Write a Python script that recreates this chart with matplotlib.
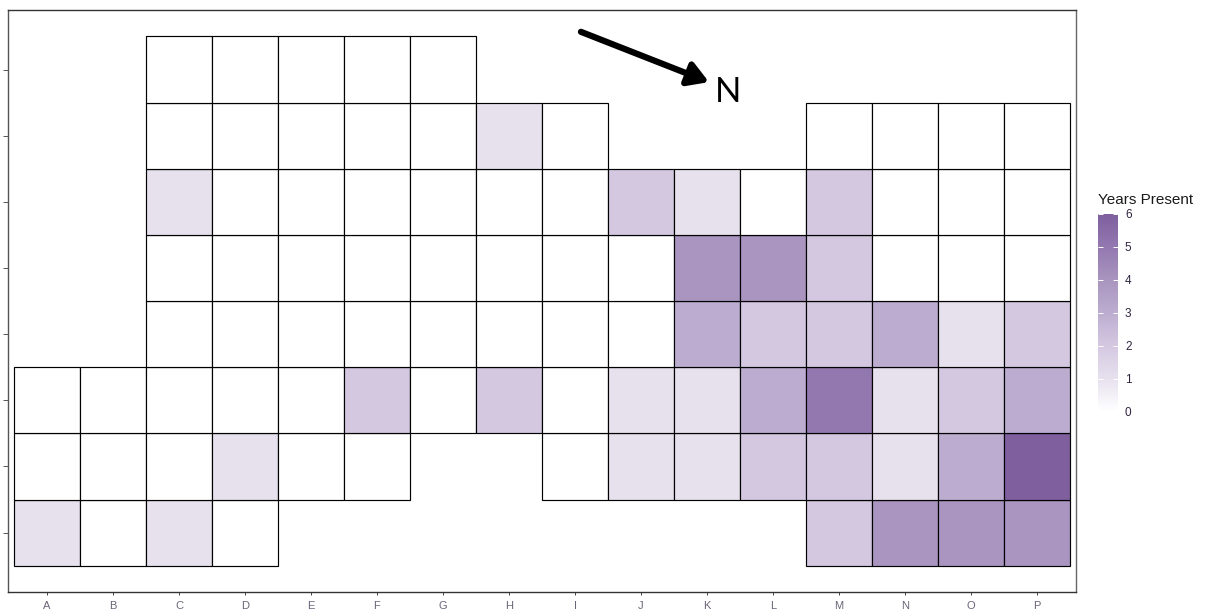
"""
Years-present grid map: one cell per plot, shaded by the number of years present.
"""
import matplotlib
matplotlib.use("Agg")
import matplotlib.pyplot as plt
from matplotlib.cm import ScalarMappable
from matplotlib.colors import LinearSegmentedColormap, Normalize
import numpy as np

W, H = 1207, 611
_ = None

COLUMNS = list("ABCDEFGHIJKLMNOP")
ROWS = [1, 2, 3, 4, 5, 6, 7, 8]

# bottom row first, None = no cell at that position
ROW_1 = [1, 0, 1, 0, _, _, _, _, _, _, _, _, 2, 4, 4, 4]
ROW_2 = [0, 0, 0, 1, 0, 0, _, _, 0, 1, 1, 2, 2, 1, 3, 6]
ROW_3 = [0, 0, 0, 0, 0, 2, 0, 2, 0, 1, 1, 3, 5, 1, 2, 3]
ROW_4 = [_, _, 0, 0, 0, 0, 0, 0, 0, 0, 3, 2, 2, 3, 1, 2]
ROW_5 = [_, _, 0, 0, 0, 0, 0, 0, 0, 0, 4, 4, 2, 0, 0, 0]
ROW_6 = [_, _, 1, 0, 0, 0, 0, 0, 0, 2, 1, 0, 2, 0, 0, 0]
ROW_7 = [_, _, 0, 0, 0, 0, 0, 1, 0, _, _, _, 0, 0, 0, 0]
ROW_8 = [_, _, 0, 0, 0, 0, 0, _, _, _, _, _, _, _, _, _]

COLORBAR_TICKS = [0, 1, 2, 3, 4, 5, 6]

plt.rcParams.update({
    "font.family": ["Liberation Sans", "DejaVu Sans"],
    "font.size": 9,
})


def box(left, top, right, bottom):
    """Pixel box of the reference -> figure fractions for add_axes."""
    return [left / W, 1 - bottom / H, (right - left) / W, (bottom - top) / H]


def main():
    table = [ROW_1, ROW_2, ROW_3, ROW_4, ROW_5, ROW_6, ROW_7, ROW_8]
    cmap = LinearSegmentedColormap.from_list(
        "years", ["#ffffff", "#e7e1ee", "#d4c8e1", "#bcadd0", "#a995bf", "#9378b0", "#7f5f9e"])
    norm = Normalize(0, 6)

    fig = plt.figure(figsize=(W / 100, H / 100), dpi=100, facecolor="white")
    ax = fig.add_axes(box(8, 10, 1076, 591.5))

    x_pos = np.arange(1, len(COLUMNS) + 1)
    for row, values in zip(ROWS, table):
        for x, v in zip(x_pos, values):
            if v is None:
                continue
            ax.bar(x, 1, width=1, bottom=row - 0.5, color=cmap(norm(v)),
                   edgecolor="black", linewidth=0.85)
    ax.set_xlim(0.41, 16.59)
    ax.set_ylim(0.11, 8.9)

    ax.set_xticks(x_pos)
    ax.set_xticklabels(COLUMNS, fontsize=8, color="#6b6478")
    ax.set_yticks(ROWS)
    ax.set_yticklabels([])
    ax.tick_params(axis="x", length=2.5, width=0.7, color="#444444", pad=4)
    ax.tick_params(axis="y", length=3.5, width=0.7, color="#555555")

    # white nicks the reference leaves on the frame
    ax.xaxis.remove_overlapping_locs = False
    ax.set_xticks(x_pos, minor=True)
    ax.set_yticks(np.arange(len(ROWS) + 1) + 0.5, minor=True)
    ax.tick_params(axis="x", which="minor", bottom=False, top=True, direction="inout",
                   length=3, width=0.7, color="white")
    ax.tick_params(axis="y", which="minor", direction="inout", length=3, width=0.7, color="white")

    for spine in ax.spines.values():
        spine.set_linewidth(1.0)
        spine.set_color("#333333")
    ax.spines["left"].set_color("#555555")
    ax.spines["right"].set_color("#666666")

    ax.annotate("", xy=(11.03, 7.81), xytext=(9.09, 8.57),
                arrowprops=dict(arrowstyle="-|>,head_length=0.8,head_width=0.48",
                                mutation_scale=15, color="black", lw=4.5, shrinkA=0, shrinkB=0))
    ax.text(11.32, 7.66, "N", fontsize=25, family="Lato",
            ha="center", va="center", color="black")

    cax = fig.add_axes(box(1098, 213.5, 1118, 412))
    cb = fig.colorbar(ScalarMappable(norm=norm, cmap=cmap), cax=cax, ticks=COLORBAR_TICKS)
    cb.outline.set_visible(False)
    cax.yaxis.set_ticks_position("both")
    cax.tick_params(axis="y", direction="in", length=3.5, width=0.7, color="white",
                    labelsize=8.5, labelcolor="#2f2340", pad=5, labelright=True, labelleft=False)
    fig.text(1098 / W, 1 - 199.5 / H, "Years Present", fontsize=11, ha="left", va="center", color="#1a1a1a")

    fig.savefig("out.png", dpi=100)
    plt.close(fig)


if __name__ == "__main__":
    main()
